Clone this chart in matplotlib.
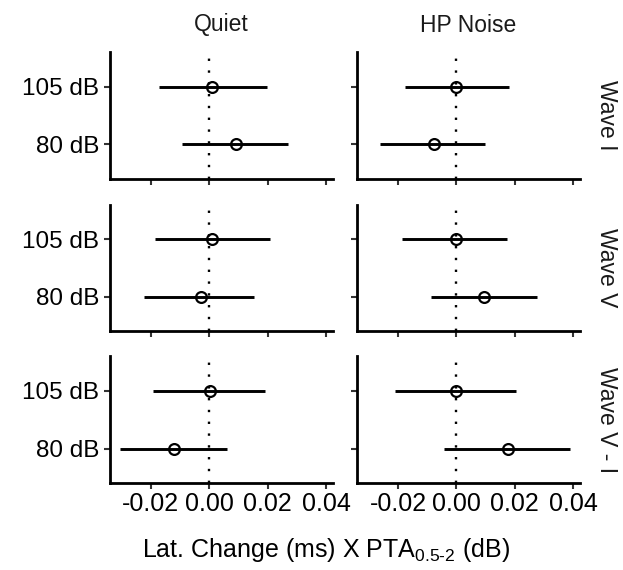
import numpy as np
import matplotlib
matplotlib.use("Agg")
import matplotlib.pyplot as plt

plt.rcParams['font.family'] = ['Liberation Sans', 'DejaVu Sans']
plt.rcParams['mathtext.fontset'] = 'custom'
plt.rcParams['mathtext.rm'] = 'Liberation Sans'

conditions = ["Quiet", "HP Noise"]
waves = ["Wave I", "Wave V", "Wave V - I"]
levels = ["80 dB", "105 dB"]  # bottom to top

# estimates, per wave -> per condition -> [80 dB, 105 dB]
est = {
    "Wave I":     {"Quiet": [0.0092, 0.0009],  "HP Noise": [-0.0078, 0.0000]},
    "Wave V":     {"Quiet": [-0.0028, 0.0009], "HP Noise": [0.0096, -0.0003]},
    "Wave V - I": {"Quiet": [-0.0120, 0.0003], "HP Noise": [0.0178, -0.0003]},
}
lower = {
    "Wave I":     {"Quiet": [-0.0095, -0.0172], "HP Noise": [-0.0262, -0.0178]},
    "Wave V":     {"Quiet": [-0.0224, -0.0185], "HP Noise": [-0.0087, -0.0185]},
    "Wave V - I": {"Quiet": [-0.0306, -0.0192], "HP Noise": [-0.0041, -0.0210]},
}
upper = {
    "Wave I":     {"Quiet": [0.0271, 0.0199], "HP Noise": [0.0099, 0.0179]},
    "Wave V":     {"Quiet": [0.0154, 0.0208], "HP Noise": [0.0276, 0.0173]},
    "Wave V - I": {"Quiet": [0.0062, 0.0191], "HP Noise": [0.0388, 0.0203]},
}
xticks = [-0.02, 0.0, 0.02, 0.04]
xticklabels = ["-0.02", "0.00", "0.02", "0.04"]

W, H = 623, 570
fig = plt.figure(figsize=(W / 100, H / 100), dpi=100)

col_x = [(109.5, 333.0), (356.7, 580.0)]
row_y = [(52, 179), (205, 331), (356, 483.3)]

for r, wave in enumerate(waves):
    for c, cond in enumerate(conditions):
        x0, x1 = col_x[c]
        yt, yb = row_y[r]
        ax = fig.add_axes([x0 / W, 1 - yb / H, (x1 - x0) / W, (yb - yt) / H])
        ypos = np.arange(1, len(levels) + 1)
        e = np.array(est[wave][cond])
        lo = np.array(lower[wave][cond])
        hi = np.array(upper[wave][cond])
        ax.axvline(0, color='black', lw=1.7, ls=(0, (1, 4.0)), zorder=1)
        ax.hlines(ypos, lo, hi, color='black', lw=2.1, zorder=2)
        ax.plot(e, ypos, 'o', ms=7.8, mfc='none', mec='black', mew=1.6, zorder=3)
        ax.set_xlim(-0.0342, 0.0424)
        ax.set_ylim(0.4, 2.6)
        ax.set_xticks(xticks)
        ax.set_yticks(ypos)
        for s in ['top', 'right']:
            ax.spines[s].set_visible(False)
        for s in ['left', 'bottom']:
            ax.spines[s].set_linewidth(2.0)
        ax.tick_params(length=4.5, width=1.5, color='#333333')
        if r == len(waves) - 1:
            ax.set_xticklabels(xticklabels, fontsize=18)
        else:
            ax.set_xticklabels([])
        if c == 0:
            ax.set_yticklabels(levels, fontsize=17.5)
        else:
            ax.set_yticklabels([])
        ax.tick_params(axis='x', pad=2)
        ax.tick_params(axis='y', pad=3)
        if c == 1:
            fig.text(606 / W, 1 - (yt + yb) / 2 / H, wave, rotation=-90,
                     ha='center', va='center', fontsize=16.5, color='#1a1a1a')

for c, cond in enumerate(conditions):
    x0, x1 = col_x[c]
    fig.text((x0 + x1) / 2 / W, 1 - 25 / H, cond, ha='center', va='center',
             fontsize=16.5, color='#1a1a1a')

fig.text(326 / W, 1 - 550 / H, r"Lat. Change (ms) X PTA$_{\mathrm{0.5\text{-}2}}$ (dB)",
         ha='center', va='center', fontsize=18)

fig.savefig("out.png", dpi=100)
